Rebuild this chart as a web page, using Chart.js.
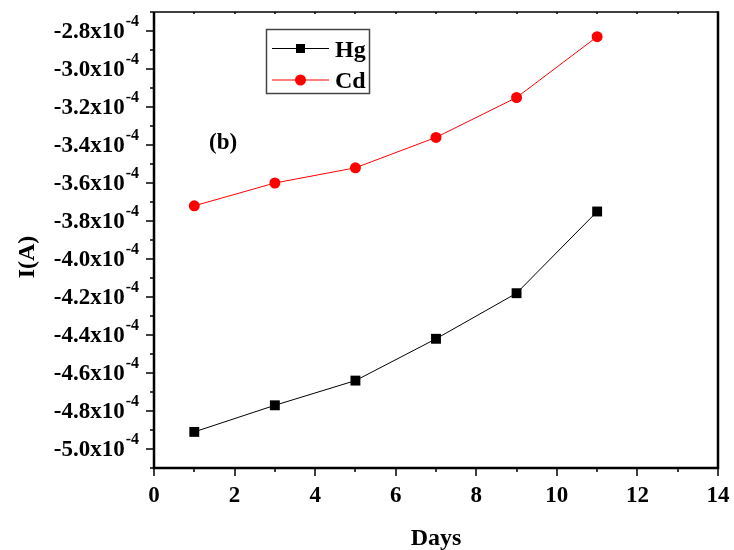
<!DOCTYPE html>
<html>
<head>
<meta charset="utf-8">
<script src="https://cdn.jsdelivr.net/npm/chart.js@4/dist/chart.umd.min.js"></script>
<style>
  html, body { margin: 0; padding: 0; background: #fff; }
  #wrap { width: 734px; height: 550px; position: relative; }
</style>
</head>
<body>
<div id="wrap"><canvas id="chart"></canvas></div>
<script>
// data (current in A)
const days = [1, 3, 5, 7, 9, 11];
const hgValues = [-4.91e-4, -4.77e-4, -4.64e-4, -4.42e-4, -4.18e-4, -3.75e-4];
const cdValues = [-3.72e-4, -3.60e-4, -3.52e-4, -3.36e-4, -3.15e-4, -2.83e-4];
const xTicks = [0, 2, 4, 6, 8, 10, 12, 14];
const yTicks = [-5.0, -4.8, -4.6, -4.4, -4.2, -4.0, -3.8, -3.6, -3.4, -3.2, -3.0, -2.8];

const FONT = '"Liberation Serif", "Times New Roman", serif';

function pts(vals) {
  return days.map((d, i) => ({ x: d, y: vals[i] }));
}

// axes, ticks, labels and legend drawn by hand (superscripts, minor ticks)
const framePlugin = {
  id: 'frame',
  afterDraw(chart) {
    const { ctx, chartArea: a, scales: { x, y } } = chart;
    ctx.save();
    ctx.strokeStyle = '#000';
    // frame
    ctx.lineWidth = 1.5;
    ctx.beginPath();
    ctx.moveTo(a.left, a.top); ctx.lineTo(a.right, a.top);
    ctx.stroke();
    ctx.lineWidth = 2.5;
    ctx.beginPath();
    ctx.moveTo(a.left, a.top); ctx.lineTo(a.left, a.bottom);
    ctx.lineTo(a.right, a.bottom); ctx.lineTo(a.right, a.top - 0.75);
    ctx.stroke();

    // x ticks (major + minor), tiny ones on top edge
    ctx.lineWidth = 1.5;
    for (let v = 0; v <= 14; v += 1) {
      const px = Math.round(x.getPixelForValue(v));
      const len = v % 2 === 0 ? 8 : 4;
      ctx.beginPath();
      ctx.moveTo(px, a.bottom); ctx.lineTo(px, a.bottom + len);
      ctx.moveTo(px, a.top); ctx.lineTo(px, a.top + 2);
      ctx.stroke();
    }
    // y ticks
    for (let k = -51; k <= -27; k++) {
      const py = Math.round(y.getPixelForValue(k * 1e-5));
      const len = k % 2 === 0 ? 8 : 4;
      ctx.beginPath();
      ctx.moveTo(a.left, py); ctx.lineTo(a.left - len, py);
      ctx.stroke();
    }

    ctx.fillStyle = '#000';
    // x tick labels
    ctx.font = 'bold 23px ' + FONT;
    ctx.textAlign = 'center';
    ctx.textBaseline = 'alphabetic';
    xTicks.forEach(v => ctx.fillText(String(v), x.getPixelForValue(v), a.bottom + 34));

    // y tick labels with superscript
    yTicks.forEach(v => {
      const py = y.getPixelForValue(v * 1e-4);
      const main = v.toFixed(1) + 'x10';
      ctx.font = 'bold 16px ' + FONT;
      const supW = ctx.measureText('-4').width;
      const supX = a.left - 15 - supW;
      ctx.textAlign = 'left';
      ctx.textBaseline = 'alphabetic';
      ctx.fillText('-4', supX, py - 5.5);
      ctx.font = 'bold 23px ' + FONT;
      ctx.textAlign = 'right';
      ctx.fillText(main, supX - 1, py + 6.5);
    });

    // axis titles
    ctx.font = 'bold 24px ' + FONT;
    ctx.textAlign = 'center';
    ctx.textBaseline = 'alphabetic';
    ctx.fillText('Days', 436, 545);
    ctx.save();
    ctx.translate(34, 257);
    ctx.rotate(-Math.PI / 2);
    ctx.fillText('I(A)', 0, 0);
    ctx.restore();

    // panel label
    ctx.font = 'bold 23px ' + FONT;
    ctx.textAlign = 'left';
    ctx.fillText('(b)', 209, 149);

    // legend
    ctx.lineWidth = 1.5;
    ctx.strokeStyle = '#444';
    ctx.strokeRect(266.5, 29.5, 103, 64);
    chart.data.datasets.forEach((ds, i) => {
      const ly = 48.5 + i * 31.5;
      ctx.strokeStyle = ds.borderColor;
      ctx.lineWidth = 1;
      ctx.beginPath();
      ctx.moveTo(272, ly); ctx.lineTo(329, ly);
      ctx.stroke();
      ctx.fillStyle = ds.pointBackgroundColor;
      if (ds.pointStyle === 'rect') {
        ctx.fillRect(296, ly - 4.5, 9, 9);
      } else {
        ctx.beginPath();
        ctx.arc(300.5, ly, 5.5, 0, Math.PI * 2);
        ctx.fill();
      }
      ctx.fillStyle = '#000';
      ctx.font = 'bold 24px ' + FONT;
      ctx.textAlign = 'left';
      ctx.textBaseline = 'alphabetic';
      ctx.fillText(ds.label, 335, ly + 8);
    });
    ctx.restore();
  }
};

new Chart(document.getElementById('chart'), {
  type: 'line',
  data: {
    datasets: [
      {
        label: 'Hg',
        data: pts(hgValues),
        borderColor: '#000',
        borderWidth: 1,
        pointStyle: 'rect',
        pointRadius: 7,
        pointBackgroundColor: '#000',
        pointBorderColor: '#000',
        pointBorderWidth: 0,
        tension: 0
      },
      {
        label: 'Cd',
        data: pts(cdValues),
        borderColor: '#ff0000',
        borderWidth: 1,
        pointStyle: 'circle',
        pointRadius: 5.5,
        pointBackgroundColor: '#ff0000',
        pointBorderColor: '#ff0000',
        pointBorderWidth: 0,
        tension: 0
      }
    ]
  },
  options: {
    responsive: true,
    maintainAspectRatio: false,
    animation: false,
    layout: { padding: { top: 12, right: 16, left: 0, bottom: 0 } },
    plugins: { legend: { display: false }, tooltip: { enabled: false } },
    scales: {
      x: {
        type: 'linear',
        min: 0, max: 14,
        ticks: { display: false, stepSize: 2 },
        grid: { display: false },
        border: { display: false },
        afterFit: s => { s.height = 82; }
      },
      y: {
        type: 'linear',
        min: -5.1e-4, max: -2.7e-4,
        ticks: { display: false },
        grid: { display: false },
        border: { display: false },
        afterFit: s => { s.width = 154; }
      }
    }
  },
  plugins: [framePlugin]
});
</script>
</body>
</html>
